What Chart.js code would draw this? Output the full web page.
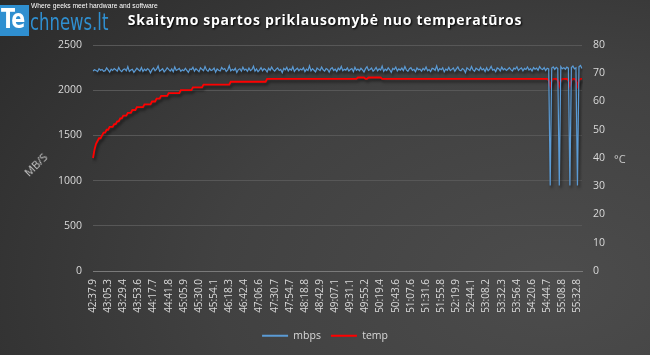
<!DOCTYPE html>
<html><head><meta charset="utf-8">
<script src="https://cdn.jsdelivr.net/npm/chart.js@4.4.0/dist/chart.umd.min.js"></script>
<style>
html,body{margin:0;padding:0;background:#333;}
#wrap{position:relative;width:650px;height:355px;overflow:hidden;
 background: radial-gradient(ellipse 115% 135% at 85% 80%, #4c4c4c 0%, #414141 45%, #282828 100%);}
canvas{position:absolute;left:0;top:0;}
.abs{position:absolute;white-space:nowrap;}
#logoBox{left:0;top:5px;width:29px;height:31px;background:#2f8fd0;}
#logoTe{left:1px;top:3px;font:bold 27px "DejaVu Sans Condensed","DejaVu Sans",sans-serif;color:#fff;letter-spacing:-1px;transform:scaleX(0.85);transform-origin:0 0;}
#logoRest{left:30px;top:9px;font:23px "DejaVu Sans Condensed","DejaVu Sans",sans-serif;color:#2f8fd0;transform-origin:0 0;}
#tagline{left:31px;top:1px;font:8px "Liberation Sans",sans-serif;color:#fff;transform-origin:0 0;}
#title{left:0;width:650px;text-align:center;top:10px;font:bold 14px "Open Sans",sans-serif;letter-spacing:0.7px;color:#fff;text-shadow:1px 1px 2px #000;}
#yTitleL{left:22px;top:157px;font:11px "Open Sans",sans-serif;color:#c8c8c8;transform:rotate(-45deg);}
#yTitleR{left:614px;top:151px;font:11px "Open Sans",sans-serif;color:#c8c8c8;}
</style></head><body>
<div id="wrap">
<canvas id="c" width="650" height="355"></canvas>
<div class="abs" id="logoBox"></div>
<div class="abs" id="logoTe">Te</div>
<div class="abs" id="logoRest">chnews.lt</div>
<div class="abs" id="tagline">Where geeks meet hardware and software</div>
<div class="abs" id="title">Skaitymo spartos priklausomybė nuo temperatūros</div>
<div class="abs" id="yTitleL">MB/S</div>
<div class="abs" id="yTitleR">°C</div>
</div>
<script>
// fit logo texts to their widths in the reference
(function(){
  const fit = (id, w) => { const el = document.getElementById(id); el.style.transform = 'scaleX(' + (w / el.offsetWidth) + ')'; };
  fit('tagline', 127); fit('logoRest', 78);
})();

// Tick labels shown on the time axis (one every few samples)
const timeLabels = ["42:37.9","43:05.3","43:29.4","43:53.6","44:17.7","44:41.8","45:05.9","45:30.0","45:54.1","46:18.3","46:42.4","47:06.6","47:30.7","47:54.7","48:18.8","48:42.9","49:07.1","49:31.1","49:55.2","50:19.4","50:43.6","51:07.6","51:31.6","51:55.8","52:19.9","52:44.1","53:08.2","53:32.3","53:56.4","54:20.6","54:44.7","55:08.8","55:32.8"];
const samplesPerLabel = 10;

// Read speed, MB/s (left axis)
const mbps = [
2212,2226,2219,2205,2238,2221,2230,2209,2216,2247,2224,2201,
2233,2218,2240,2227,2211,2252,2219,2206,2229,2236,2214,2261,
2207,2223,2231,2198,2219,2244,2226,2213,2250,2208,2232,2217,
2239,2225,2192,2228,2246,2215,2233,2268,2210,2224,2237,2203,
2221,2249,2230,2212,2236,2204,2258,2219,2228,2241,2209,2226,
2215,2243,2220,2197,2234,2229,2253,2211,2238,2222,2205,2247,
2231,2216,2262,2224,2208,2239,2218,2227,2245,2200,2235,2221,
2213,2251,2229,2240,2206,2223,2270,2214,2232,2219,2242,2196,
2228,2237,2210,2255,2222,2234,2209,2246,2217,2230,2265,2212,
2236,2204,2224,2248,2215,2239,2226,2201,2243,2220,2257,2227,
2211,2233,2246,2218,2230,2194,2241,2225,2252,2213,2237,2222,
2260,2208,2229,2243,2216,2235,2224,2249,2206,2232,2219,2271,
2214,2238,2221,2203,2245,2230,2217,2256,2226,2211,2240,2229,
2199,2236,2250,2218,2233,2207,2244,2224,2263,2215,2231,2222,
2247,2212,2228,2239,2205,2254,2220,2234,2216,2242,2225,2201,
2238,2259,2219,2230,2245,2210,2227,2251,2214,2236,2223,2266,
2208,2232,2218,2248,2226,2197,2240,2229,2255,2213,2235,2221,
2244,2216,2262,2225,2209,2237,2250,2219,2231,2204,2246,2227,
2233,2211,2241,2224,2258,2215,2229,2206,2243,2236,2220,2269,
2212,2239,2226,2248,2203,2234,2221,2252,2217,2230,2245,2209,
2236,2257,2222,2214,2240,2228,2195,2247,2233,2219,2261,2225,
2210,2243,2231,2218,2253,2224,2238,2207,2249,2216,2234,2264,
2221,2230,2205,2246,2237,2213,2255,2226,2240,2218,2232,2250,
2227,2211,2244,2234,2260,2219,2236,2247,2215,2241,2229,2256,
2224,2239,2212,2251,2233,2245,2220,2262,2237,2228,2249,2218,
2243,2235,945,2246,2258,2230,2253,2240,945,2261,2237,2249,
2232,2255,2244,945,2250,2268,2236,2247,945,2259,2274,2241
];

// Temperature, °C (right axis)
const temp = [
40,43,45,46,47,47,48,49,49,50,50,51,
51,51,52,52,53,53,54,54,55,55,55,56,
56,56,57,57,57,58,58,58,58,58,59,59,
59,59,59,60,60,60,61,61,61,62,62,62,
62,62,63,63,63,63,63,63,63,63,64,64,
64,64,64,64,64,64,65,65,65,65,65,65,
65,66,66,66,66,66,66,66,66,66,66,66,
66,66,66,66,66,66,66,67,67,67,67,67,
67,67,67,67,67,67,67,67,67,67,67,67,
67,67,67,67,67,67,67,68,68,68,68,68,
68,68,68,68,68,68,68,68,68,68,68,68,
68,68,68,68,68,68,68,68,68,68,68,68,
68,68,68,68,68,68,68,68,68,68,68,68,
68,68,68,68,68,68,68,68,68,68,68,68,
68,68,68,68,68,68,68,68.5,68.5,68.5,68.5,68.5,
68,68,68.5,68.5,68.5,68.5,68.5,68.5,68.5,68.5,68.5,68,
68,68,68,68,68,68,68,68,68,68,68,68,
68,68,68,68,68,68,68,68,68,68,68,68,
68,68,68,68,68,68,68,68,68,68,68,68,
68,68,68,68,68,68,68,68,68,68,68,68,
68,68,68,68,68,68,68,68,68,68,68,68,
68,68,68,68,68,68,68,68,68,68,68,68,
68,68,68,68,68,68,68,68,68,68,68,68,
68,68,68,68,68,68,68,68,68,68,68,68,
68,68,68,68,68,68,68,68,68,68,68,68,
68,67.5,65.5,67.5,68,68,68,67.5,65.5,67.5,68,68,
68,68,67.5,65.5,67.5,68,68,67.5,65.5,67.5,68,68
];

const categories = mbps.map((v, i) => (i % samplesPerLabel === 0 ? (timeLabels[i / samplesPerLabel] || '') : ''));

const shadowPlugin = {
  id: 'lineShadow',
  beforeDatasetsDraw(chart) {
    const c = chart.ctx; c.save();
    c.shadowColor = 'rgba(0,0,0,0.6)'; c.shadowBlur = 3; c.shadowOffsetX = 1.5; c.shadowOffsetY = 2.5;
  },
  afterDatasetsDraw(chart) { chart.ctx.restore(); }
};

const tickFont = { family: '"Open Sans", sans-serif', size: 10 };
const yFont = { family: '"Open Sans", sans-serif', size: 10.5 };
const tickColor = '#d9d9d9';

new Chart(document.getElementById('c'), {
  type: 'line',
  data: {
    labels: categories,
    datasets: [
      { label: 'mbps', data: mbps, yAxisID: 'y', borderColor: '#5b9bd5', backgroundColor: '#5b9bd5', borderWidth: 1.2, pointRadius: 0, tension: 0 },
      { label: 'temp', data: temp, yAxisID: 'yT', borderColor: '#ff0000', backgroundColor: '#ff0000', borderWidth: 1.8, pointRadius: 0, tension: 0 }
    ]
  },
  options: {
    responsive: false,
    animation: false,
    devicePixelRatio: 1,
    layout: { padding: { top: 45, left: 0, right: 0, bottom: 4 } },
    plugins: {
      title: { display: false },
      tooltip: { enabled: false },
      legend: {
        position: 'bottom',
        labels: {
          color: tickColor,
          font: { family: '"Open Sans", sans-serif', size: 10.5 },
          boxWidth: 26, boxHeight: 2, padding: 10,
          generateLabels(chart) {
            return Chart.defaults.plugins.legend.labels.generateLabels(chart).map(it => {
              const ds = chart.data.datasets[it.datasetIndex];
              it.fillStyle = ds.borderColor; it.strokeStyle = ds.borderColor; it.lineWidth = 0; it.fontColor = tickColor;
              return it;
            });
          }
        }
      }
    },
    scales: {
      x: {
        type: 'category',
        grid: { display: false, drawTicks: false },
        border: { display: true, color: '#7a7a7a' },
        ticks: { autoSkip: false, maxRotation: 90, minRotation: 90, color: tickColor, font: tickFont, padding: 8 },
        afterFit(s) { s.height = 49.5; }
      },
      y: {
        position: 'left', min: 0, max: 2500,
        grid: { color: '#575757', drawTicks: false },
        border: { display: false },
        ticks: { stepSize: 500, color: tickColor, font: yFont, padding: 11, callback: v => String(v) },
        afterFit(s) { s.width = 93; }
      },
      yT: {
        position: 'right', min: 0, max: 80,
        grid: { display: false, drawTicks: false },
        border: { display: false },
        ticks: { stepSize: 10, color: tickColor, font: yFont, padding: 11, callback: v => String(v) },
        afterFit(s) { s.width = 68; }
      }
    }
  },
  plugins: [shadowPlugin]
});
</script>
</body></html>
